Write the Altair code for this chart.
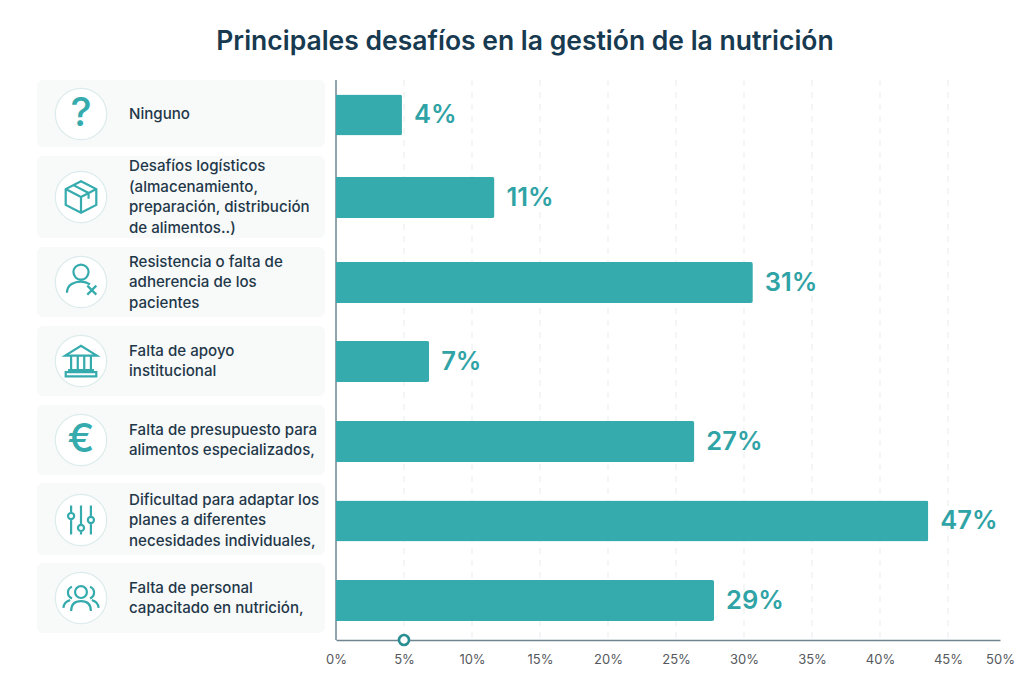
import altair as alt
import pandas as pd

TITLE = "Principales desafíos en la gestión de la nutrición"
categories = [
    "Ninguno",
    "Desafíos logísticos\n(almacenamiento,\npreparación, distribución\nde alimentos..)",
    "Resistencia o falta de\nadherencia de los\npacientes",
    "Falta de apoyo\ninstitucional",
    "Falta de presupuesto para\nalimentos especializados,",
    "Dificultad para adaptar los\nplanes a diferentes\nnecesidades individuales,",
    "Falta de personal\ncapacitado en nutrición,",
]
bar_lengths = [4.85, 11.65, 30.65, 6.85, 26.35, 43.55, 27.8]
value_labels = ["4%", "11%", "31%", "7%", "27%", "47%", "29%"]
icons = ["question", "box", "person", "bank", "euro", "sliders", "people"]
x_ticks = [0, 5, 10, 15, 20, 25, 30, 35, 40, 45, 50]
grid_ticks = [5, 10, 15, 20, 25, 30, 35, 40, 45]
marker_at = [5]

TEAL = "#35abae"
TEAL_TXT = "#2fa3a5"
INK = "#1f3849"
FONT = "Inter"


def circ(cx, cy, r):
    return f"M{cx+r} {cy}A{r} {r} 0 1 0 {cx-r} {cy}A{r} {r} 0 1 0 {cx+r} {cy}Z"


ICON_PATHS = {
    "box": "M0 -.88L.85 -.44V.44L0 .88L-.85 .44V-.44ZM-.85 -.44L0 0L.85 -.44M0 0V.88M-.42 -.66L.42 -.22V.1",
    "person": circ(0, -.55, .42) + "M-.78 .6C-.78 .12 -.35 -.02 0 -.02C.2 -.02 .35 .03 .5 .13M.35 .2L.85 .7M.85 .2L.35 .7",
    "bank": "M-.88 -.3L0 -.85L.88 -.3ZM-.55 -.3V.5M-.18 -.3V.5M.18 -.3V.5M.55 -.3V.5M-.72 .5H.72M-.85 .85V.62H.85V.85Z",
    "sliders": (
        "M-.55 -.8V-.39M-.55 -.05V.8M0 -.8V.27M0 .61V.8M.55 -.8V-.17M.55 .17V.8"
        + circ(-.55, -.22, .17) + circ(0, .44, .17) + circ(.55, 0, .17)
    ),
    "people": (
        circ(0, -.33, .33) + "M-.55 .72C-.55 .3 -.3 .17 0 .17C.3 .17 .55 .3 .55 .72"
        + "M-.5 -.62C-.8 -.5 -.8 -.1 -.5 .02M.5 -.62C.8 -.5 .8 -.1 .5 .02"
        + "M-.98 .55C-.95 .3 -.8 .17 -.6 .12M.98 .55C.95 .3 .8 .17 .6 .12"
    ),
}
GLYPHS = {"question": "?", "euro": "€"}

rows = list(range(len(categories)))
df = pd.DataFrame({
    "row": rows,
    "top": [r - .45 for r in rows],
    "mid": [r - .02 for r in rows],
    "bottom": [r + .45 for r in rows],
    "cat": categories,
    "lines": [c.count("\n") + 1 for c in categories],
    "length": bar_lengths,
    "label": value_labels,
    "icon": icons,
})

# Row scale: every row has its own height in the reference, so the scale is piecewise.
tops = [0, 76, 167, 246, 325, 403, 483]
mids = [34, 117, 202, 281, 360, 440, 518]
bars = [35, 117.5, 202.5, 281.5, 361.5, 441, 520.5]
bots = [67, 158, 237, 316, 395, 475, 553]
y_domain, y_range = [], []
for r, a, b, c, d in zip(rows, tops, mids, bars, bots):
    y_domain += [r - .45, r - .02, r, r + .45]
    y_range += [a, b, c, d]
Y_SCALE = alt.Scale(domain=y_domain, range=y_range, zero=False, nice=False, padding=0)
X_SCALE = alt.Scale(domain=[0, 45, 50], range=[306, 918, 970], zero=False, nice=False, padding=0)


def Y(field):
    return alt.Y(f"{field}:Q", scale=Y_SCALE, axis=None)


X_AXIS = alt.Axis(
    values=x_ticks, labelExpr="datum.value + '%'", title=None, grid=False, ticks=False,
    domainColor="#6f8591", domainWidth=1.5, labelColor="#55595e", labelFont=FONT,
    labelFontSize=13, labelPadding=13, labelFlush=False, labelOverlap=False,
)

cards = alt.Chart(df).mark_rect(color="#f8f9f9", cornerRadius=6, clip=False).encode(
    x=alt.value(7), x2=alt.value(295), y=Y("top"), y2="bottom:Q"
)
grid = alt.Chart(pd.DataFrame({"v": grid_ticks})).mark_rule(
    color="#e9ebec", strokeDash=[6, 6], strokeWidth=1
).encode(x=alt.X("v:Q", scale=X_SCALE, axis=X_AXIS))
y_line = alt.Chart(df.head(1)).mark_rule(color="#6f8591", strokeWidth=1.5).encode(
    x=alt.datum(0, scale=X_SCALE)
)
bars_layer = alt.Chart(df).mark_bar(
    color=TEAL, orient="horizontal", size=41, cornerRadiusTopRight=2, cornerRadiusBottomRight=2
).encode(x=alt.X("length:Q", scale=X_SCALE, axis=X_AXIS), y=Y("row"))
values = alt.Chart(df).mark_text(
    align="left", baseline="middle", dx=12, font=FONT, fontSize=25.5, fontWeight=600, color=TEAL_TXT
).encode(x=alt.X("length:Q", scale=X_SCALE, axis=X_AXIS), y=Y("row"), text="label:N")
circles = alt.Chart(df).mark_point(
    filled=True, fill="white", stroke="#dcebeb", strokeWidth=1.2, opacity=1, size=2642, shape="circle"
).encode(x=alt.value(51), y=Y("mid"))

paths = list(ICON_PATHS)
line_icons = alt.Chart(df[df.icon.isin(paths)]).mark_point(
    filled=False, color=TEAL, strokeWidth=2.2, size=1296, opacity=1
).encode(
    x=alt.value(51), y=Y("mid"),
    shape=alt.Shape("icon:N", scale=alt.Scale(domain=paths, range=[ICON_PATHS[p] for p in paths]), legend=None),
)
glyph_df = df[df.icon.isin(GLYPHS)].assign(glyph=lambda d: d.icon.map(GLYPHS))
glyph_icons = alt.Chart(glyph_df).mark_text(
    font=FONT, fontSize=40, fontWeight=500, color=TEAL, baseline="middle", align="center"
).encode(x=alt.value(51), y=Y("mid"), text="glyph:N")

LINE_H = 20.5
name_layers = []
for n in sorted(set(df.lines)):
    name_layers.append(
        alt.Chart(df[df.lines == n]).mark_text(
            align="left", baseline="middle", font=FONT, fontSize=15.1, fontWeight=500, color=INK,
            lineBreak="\n", lineHeight=LINE_H, dy=-(n - 1) * LINE_H / 2,
        ).encode(x=alt.value(99), y=Y("mid"), text="cat:N")
    )
marker = alt.Chart(pd.DataFrame({"v": marker_at})).mark_point(
    filled=True, fill="white", stroke="#2a8f92", strokeWidth=2.6, opacity=1, size=100, shape="circle", clip=False
).encode(x=alt.X("v:Q", scale=X_SCALE, axis=X_AXIS), y=alt.value(560))

chart = alt.layer(
    cards, grid, y_line, bars_layer, values, circles, line_icons, glyph_icons, *name_layers, marker
).properties(
    width=970, height=560,
    background="white",
    padding={"left": 22, "top": 72, "right": 16, "bottom": 35},
    autosize=alt.AutoSizeParams(type="none"),
    title=alt.TitleParams(
        TITLE, font=FONT, fontSize=26.5, fontWeight=600, color="#173a50",
        anchor="middle", frame="group", dx=10, dy=27, offset=24, baseline="bottom",
    ),
).configure_view(stroke=None)

chart.save("out.html", embed_options={"renderer": "svg", "actions": False})
